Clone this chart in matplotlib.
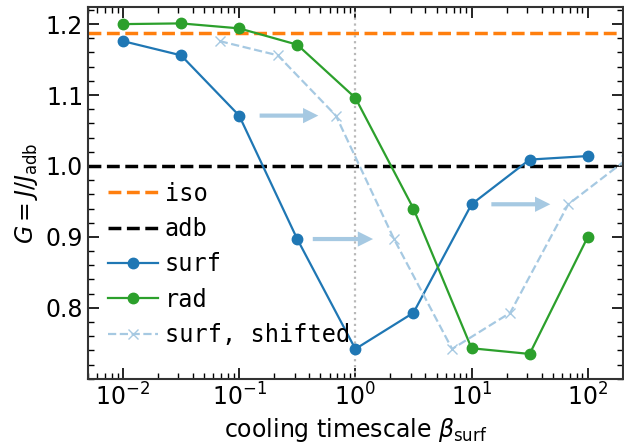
import numpy as np
import matplotlib
matplotlib.use("Agg")
import matplotlib.pyplot as plt

plt.rcParams['font.size'] = 17
plt.rcParams['mathtext.fontset'] = 'dejavusans'

# cooling timescales and gain ratio G = J/J_adb
beta = [0.01, 0.0316, 0.1, 0.316, 1.0, 3.16, 10.0, 31.6, 100.0]
G_surf = [1.176, 1.156, 1.071, 0.897, 0.742, 0.793, 0.946, 1.009, 1.014]
G_rad = [1.200, 1.201, 1.194, 1.171, 1.096, 0.940, 0.743, 0.735, 0.900]
beta_shifted = [0.068, 0.215, 0.68, 2.15, 6.8, 21.5, 68.0, 215.0, 680.0]
G_iso = 1.187
G_adb = 1.0

# arrows showing the shift (start x, end x, y)
arrow_x0 = [0.15, 0.43, 14.8]
arrow_x1 = [0.48, 1.42, 47.6]
arrow_y = [1.071, 0.897, 0.946]

light = '#a6c9e2'

fig = plt.figure(figsize=(6.24, 4.43), dpi=100)
ax = fig.add_axes([0.141, 0.145, 0.857, 0.839])

ax.axhline(G_iso, color='C1', ls='--', lw=2.5, label='iso')
ax.axhline(G_adb, color='k', ls='--', lw=2.5, label='adb')
ax.axvline(1.0, color='#b8b8b8', ls=':', lw=1.6)
ax.plot(beta, G_surf, 'o-', color='C0', ms=7.5, lw=1.6, label='surf')
ax.plot(beta, G_rad, 'o-', color='C2', ms=7.5, lw=1.6, label='rad')
ax.plot(beta_shifted, G_surf, 'x--', color=light, ms=7.5, lw=1.6,
        label='surf, shifted')

for x0, x1, y in zip(arrow_x0, arrow_x1, arrow_y):
    ax.annotate('', xy=(x1, y), xytext=(x0, y),
                arrowprops=dict(facecolor=light, edgecolor='none',
                                width=3, headwidth=11, headlength=11))

ax.set_xscale('log')
ax.set_xlim(0.005, 200)
ax.set_ylim(0.70, 1.224)
ax.set_yticks([0.8, 0.9, 1.0, 1.1, 1.2])
ax.yaxis.set_minor_locator(matplotlib.ticker.MultipleLocator(0.02))
ax.tick_params(which='both', direction='in', top=True, right=True)
ax.tick_params(which='major', length=8, width=1.2)
ax.tick_params(which='minor', length=4, width=1)
for s in ax.spines.values():
    s.set_linewidth(1.5)
    s.set_color('#333333')

ax.set_xlabel(r'cooling timescale $\beta_\mathrm{surf}$')
ax.set_ylabel(r'$G = J/J_\mathrm{adb}$')

leg = ax.legend(loc='lower left', bbox_to_anchor=(0.02, 0.06), frameon=False,
                borderaxespad=0, handlelength=2.1, labelspacing=0.48,
                handletextpad=0.3,
                prop={'family': 'DejaVu Sans Mono', 'size': 17})

fig.savefig('out.png', dpi=100)
